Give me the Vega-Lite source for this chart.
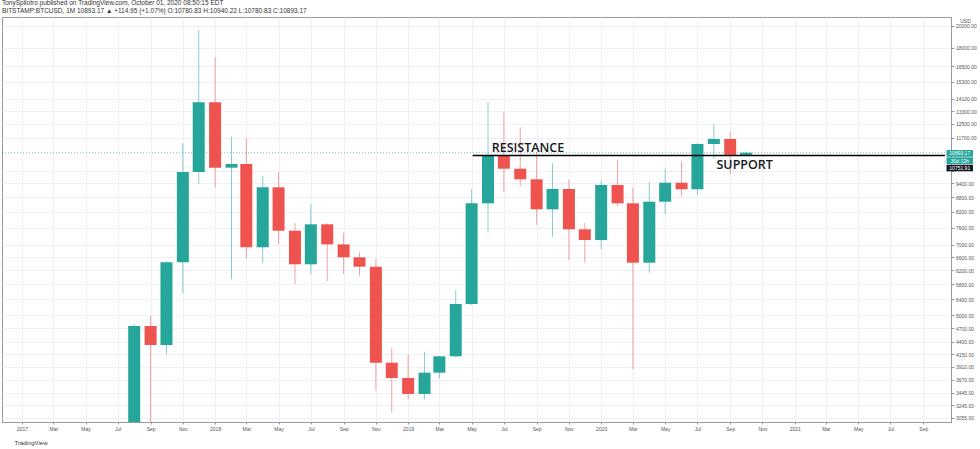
{
  "$schema": "https://vega.github.io/schema/vega-lite/v6.json",
  "width": 949,
  "height": 405,
  "autosize": {"type": "none"},
  "padding": {"left": 2, "top": 17, "right": 29, "bottom": 27},
  "background": "white",
  "title": {
    "text": "TonySpilotro published on TradingView.com, October 01, 2020 08:50:15 EDT",
    "subtitle": "BITSTAMP:BTCUSD, 1M  10893.17 ▲ +114.95 (+1.07%)  O:10780.83  H:10940.22  L:10780.83  C:10893.17",
    "anchor": "start",
    "frame": "group",
    "font": "Liberation Sans",
    "subtitleFont": "Liberation Sans",
    "fontSize": 6.5,
    "subtitleFontSize": 6.5,
    "fontWeight": "normal",
    "color": "#333333",
    "subtitleColor": "#333333",
    "offset": 3,
    "subtitlePadding": 1
  },
  "datasets": {
    "candles": [
      {"date": "2017-08-01", "open": 2871, "high": 4790, "low": 2620, "close": 4748},
      {"date": "2017-09-01", "open": 4748, "high": 4987, "low": 2972, "close": 4335},
      {"date": "2017-10-01", "open": 4335, "high": 6470, "low": 4146, "close": 6443},
      {"date": "2017-11-01", "open": 6443, "high": 11393, "low": 5553, "close": 9929},
      {"date": "2017-12-01", "open": 9929, "high": 19608, "low": 9361, "close": 13867},
      {"date": "2018-01-01", "open": 13867, "high": 17200, "low": 9227, "close": 10138},
      {"date": "2018-02-01", "open": 10138, "high": 11759, "low": 5938, "close": 10317},
      {"date": "2018-03-01", "open": 10317, "high": 11670, "low": 6566, "close": 6922},
      {"date": "2018-04-01", "open": 6922, "high": 9741, "low": 6430, "close": 9227},
      {"date": "2018-05-01", "open": 9227, "high": 9929, "low": 7032, "close": 7495},
      {"date": "2018-06-01", "open": 7495, "high": 7788, "low": 5798, "close": 6381},
      {"date": "2018-07-01", "open": 6381, "high": 8506, "low": 6082, "close": 7728},
      {"date": "2018-08-01", "open": 7728, "high": 7760, "low": 5890, "close": 7020},
      {"date": "2018-09-01", "open": 7020, "high": 7424, "low": 6090, "close": 6598},
      {"date": "2018-10-01", "open": 6598, "high": 6758, "low": 6042, "close": 6308},
      {"date": "2018-11-01", "open": 6308, "high": 6545, "low": 3482, "close": 3981},
      {"date": "2018-12-01", "open": 3981, "high": 4266, "low": 3134, "close": 3701},
      {"date": "2019-01-01", "open": 3701, "high": 4131, "low": 3341, "close": 3427},
      {"date": "2019-02-01", "open": 3427, "high": 4197, "low": 3341, "close": 3796},
      {"date": "2019-03-01", "open": 3796, "high": 4110, "low": 3688, "close": 4106},
      {"date": "2019-04-01", "open": 4106, "high": 5642, "low": 4085, "close": 5275},
      {"date": "2019-05-01", "open": 5275, "high": 9140, "low": 5250, "close": 8547},
      {"date": "2019-06-01", "open": 8547, "high": 13867, "low": 7424, "close": 10736},
      {"date": "2019-07-01", "open": 10736, "high": 13192, "low": 9035, "close": 10088},
      {"date": "2019-08-01", "open": 10088, "high": 12300, "low": 9285, "close": 9588},
      {"date": "2019-09-01", "open": 9588, "high": 10930, "low": 7703, "close": 8304},
      {"date": "2019-10-01", "open": 8304, "high": 10352, "low": 7283, "close": 9153},
      {"date": "2019-11-01", "open": 9153, "high": 9588, "low": 6514, "close": 7546},
      {"date": "2019-12-01", "open": 7546, "high": 7780, "low": 6430, "close": 7168},
      {"date": "2020-01-01", "open": 7168, "high": 9530, "low": 6855, "close": 9330},
      {"date": "2020-02-01", "open": 9330, "high": 10500, "low": 8424, "close": 8547},
      {"date": "2020-03-01", "open": 8547, "high": 9227, "low": 3858, "close": 6430},
      {"date": "2020-04-01", "open": 6430, "high": 9478, "low": 6129, "close": 8613},
      {"date": "2020-05-01", "open": 8613, "high": 10073, "low": 8108, "close": 9434},
      {"date": "2020-06-01", "open": 9434, "high": 10452, "low": 8821, "close": 9140},
      {"date": "2020-07-01", "open": 9140, "high": 11400, "low": 8894, "close": 11356},
      {"date": "2020-08-01", "open": 11356, "high": 12481, "low": 10568, "close": 11630},
      {"date": "2020-09-01", "open": 11630, "high": 12046, "low": 9821, "close": 10780.83},
      {"date": "2020-10-01", "open": 10780.83, "high": 10940.22, "low": 10780.83, "close": 10893.17}
    ],
    "levels": [
      {"name": "resistance / support", "price": 10751.91, "start": "2019-05-03", "end": "2021-10-12"}
    ],
    "last": [
      {"price": 10893.17}
    ],
    "notes": [
      {"label": "RESISTANCE", "date": "2019-06-08", "price": 11166},
      {"label": "SUPPORT", "date": "2020-08-06", "price": 10293}
    ],
    "tags": [
      {"label": "10893.17", "kind": "last", "lo": 10685, "hi": 11034, "mid": 10893.17},
      {"label": "30d 12h", "kind": "countdown", "lo": 10318, "hi": 10654, "mid": 10487},
      {"label": "10751.91", "kind": "line", "lo": 9963, "hi": 10283, "mid": 10122}
    ]
  },
  "layer": [
    {
      "data": {"name": "last"},
      "mark": {"type": "rule", "color": "#26a69a", "opacity": 0.6, "strokeDash": [1, 2], "strokeWidth": 1},
      "encoding": {
        "y": {
          "field": "price",
          "type": "quantitative",
          "scale": {"type": "log", "domain": [2997, 20870], "nice": false, "zero": false},
          "axis": {
            "orient": "right",
            "title": "USD",
            "titleAngle": 0,
            "titleX": 14,
            "titleY": 3,
            "titleAlign": "center",
            "titleBaseline": "middle",
            "titleFontSize": 5,
            "titleFontWeight": "normal",
            "titleColor": "#555555",
            "values": [3055, 3245, 3445, 3670, 3910, 4150, 4400, 4700, 5000, 5400, 5800, 6200, 6600, 7000, 7600, 8200, 8800, 9400, 10000, 11700, 12500, 13300, 14100, 15300, 16500, 18000, 20000],
            "labelExpr": "datum.value == 10000 ? '' : format(datum.value, '.2f')",
            "labelFontSize": 5,
            "labelColor": "#555555",
            "labelPadding": 1.5,
            "tickSize": 3,
            "tickColor": "#9598a1",
            "domainColor": "#9598a1",
            "grid": true,
            "gridColor": "#edf1f7"
          }
        }
      }
    },
    {
      "data": {"name": "candles"},
      "mark": {"type": "rule", "strokeWidth": 1, "opacity": 0.55, "clip": true},
      "encoding": {
        "x": {
          "field": "date",
          "type": "temporal",
          "scale": {"type": "utc", "domain": [{"year": 2016, "month": 12, "date": 3, "hours": 12, "utc": true}, {"year": 2021, "month": 10, "date": 14, "utc": true}]},
          "axis": {
            "title": "TradingView",
            "titleAnchor": "start",
            "titleAlign": "left",
            "titleBaseline": "middle",
            "titleX": 12,
            "titleY": 20,
            "titleFontSize": 6,
            "titleFontWeight": "normal",
            "titleColor": "#333333",
            "tickCount": {"interval": "month", "step": 2},
            "labelExpr": "utcmonth(datum.value) == 0 ? utcFormat(datum.value, '%Y') : utcFormat(datum.value, '%b')",
            "labelFontSize": 5,
            "labelColor": "#555555",
            "labelPadding": 2,
            "labelOverlap": false,
            "tickSize": 2,
            "tickColor": "#9598a1",
            "domainColor": "#9598a1",
            "grid": true,
            "gridColor": "#edf1f7"
          }
        },
        "y": {"field": "low", "type": "quantitative"},
        "y2": {"field": "high"},
        "color": {"condition": {"test": "datum.close >= datum.open", "value": "#26a69a"}, "value": "#ef5350"}
      }
    },
    {
      "data": {"name": "candles"},
      "mark": {"type": "bar", "size": 12, "clip": true},
      "encoding": {
        "x": {"field": "date", "type": "temporal"},
        "y": {"field": "open", "type": "quantitative"},
        "y2": {"field": "close"},
        "color": {"condition": {"test": "datum.close >= datum.open", "value": "#26a69a"}, "value": "#ef5350"}
      }
    },
    {
      "data": {"name": "levels"},
      "mark": {"type": "rule", "color": "#000000", "strokeWidth": 1.5},
      "encoding": {
        "x": {"field": "start", "type": "temporal"},
        "x2": {"field": "end"},
        "y": {"field": "price", "type": "quantitative"}
      }
    },
    {
      "data": {"name": "notes"},
      "mark": {"type": "text", "align": "left", "baseline": "middle", "font": "Open Sans", "fontSize": 12.5, "fontWeight": 600, "color": "#131722"},
      "encoding": {
        "x": {"field": "date", "type": "temporal"},
        "y": {"field": "price", "type": "quantitative"},
        "text": {"field": "label"}
      }
    },
    {
      "data": {"name": "tags"},
      "mark": {"type": "rect", "clip": false},
      "encoding": {
        "x": {"datum": {"year": 2021, "month": 10, "date": 15, "utc": true}, "type": "temporal"},
        "x2": {"datum": {"year": 2021, "month": 12, "date": 4, "utc": true}},
        "y": {"field": "lo", "type": "quantitative"},
        "y2": {"field": "hi"},
        "color": {"field": "kind", "type": "nominal", "scale": {"domain": ["last", "countdown", "line"], "range": ["#26a69a", "#26a69a", "#131722"]}, "legend": null}
      }
    },
    {
      "data": {"name": "tags"},
      "mark": {"type": "text", "clip": false, "align": "center", "baseline": "middle", "fontSize": 5, "color": "#ffffff"},
      "encoding": {
        "x": {"datum": {"year": 2021, "month": 11, "date": 9, "utc": true}, "type": "temporal"},
        "y": {"field": "mid", "type": "quantitative"},
        "text": {"field": "label"}
      }
    }
  ],
  "config": {
    "view": {"stroke": "#9598a1", "strokeWidth": 1},
    "font": "Liberation Sans",
    "axis": {"labelFont": "Liberation Sans", "titleFont": "Liberation Sans"}
  }
}
